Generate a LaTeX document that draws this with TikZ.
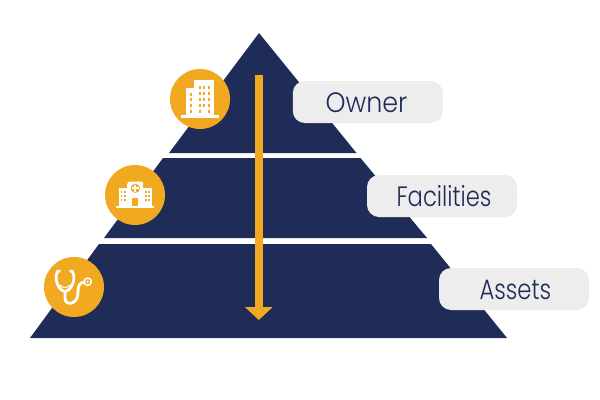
\documentclass[tikz,border=0pt]{standalone}
\usepackage{fontspec}
\setmainfont{Poppins Light}[FakeStretch=0.81]
\usepackage{xcolor}
\usetikzlibrary{arrows.meta}
\definecolor{pyrnavy}{HTML}{1F2C58}
\definecolor{pyrorange}{HTML}{F2A922}
\definecolor{pillgray}{HTML}{EDEDEE}
\tikzset{
	tier/.style={fill=pyrnavy, draw=none},
	badge/.style={circle, fill=pyrorange, draw=none, minimum size=45pt, inner sep=0pt},
	pill/.style={rounded corners=9pt, fill=pillgray, draw=none, minimum width=112.5pt, minimum height=31.5pt, inner sep=0pt, text=pyrnavy, text height=15pt, text depth=0pt, font=\fontsize{21}{24}\selectfont},
	iconwhite/.style={fill=white, draw=none},
	win/.style={fill=pyrorange, draw=none},
	tube/.style={draw=white, line width=2.1pt, line cap=round}
}
\begin{document}
\begin{tikzpicture}[x=0.75pt, y=-0.75pt]
		\useasboundingbox (0,0) rectangle (600,400);
		\fill[tier] (259,33) -- (356.5,153) -- (169,153) -- cycle;
		\fill[tier] (163,158) -- (360.5,158) -- (427,238) -- (104,238) -- cycle;
		\fill[tier] (99,244) -- (431,244) -- (507,338) -- (30,338) -- cycle;

		\coordinate (arrowtop) at (258.8,75);
		\coordinate (arrowend) at (258.8,320);
		\draw[draw=pyrorange, line width=6.4pt, -{Triangle[width=20pt, length=9.6pt]}] (arrowtop) -- (arrowend);

		\node[pill] (owner) at (367.8,102) {\hspace*{-2pt}\scalebox{1.12}[1]{Owner}};
		\node[pill] (facilities) at (442,196) {\hspace*{3pt}Facilities};
		\node[pill] (assets) at (514,289) {\hspace*{2pt}Assets};

		\node[badge] (ownerbadge) at (200,99) {};
		\node[badge] (facilitiesbadge) at (135,195) {};
		\node[badge] (assetsbadge) at (74,287) {};

		% building
		\fill[iconwhite] (181,115) rectangle (219,117.7);
		\fill[iconwhite] (194,80) rectangle (214.3,115);
		\fill[iconwhite] (185.7,87.7) rectangle (194,115);
		\foreach \wx in {199,203,207.5} {
			\foreach \wy in {86,92,98,104,110} {
				\fill[win] (\wx,\wy) rectangle ++(2,3.2);
			}
		}
		\foreach \wy in {92.5,98,104,109.5} {
			\fill[win] (190,\wy) rectangle ++(2,3);
		}
		\fill[iconwhite] (203,110) rectangle ++(2,5);

		% hospital
		\fill[iconwhite] (116,205.7) rectangle (154,208.3);
		\fill[iconwhite] (127.3,183.5) rectangle (143.3,205.7);
		\fill[iconwhite] (127.3,184) arc (180:270:2.5) -- (140.8,181.5) arc (270:360:2.5) -- cycle;
		\fill[iconwhite] (118.7,187.7) rectangle (127.3,205.7);
		\fill[iconwhite] (143.3,187.7) rectangle (152,205.7);
		\fill[win] (135.3,188.3) circle (4.6);
		\fill[iconwhite] (134.3,184.8) rectangle (136.3,191.8);
		\fill[iconwhite] (131.8,187.3) rectangle (138.8,189.3);
		\fill[win] (132.3,197.7) rectangle (137.7,205.7);
		\foreach \wx in {120.5,123.8,145,148.3} {
			\foreach \wy in {190.5,194.5,198.5} {
				\fill[win] (\wx,\wy) rectangle ++(1.9,2.4);
			}
		}

		% stethoscope
		\draw[tube] (59.5,271) -- (57.5,271.5) .. controls (55,276) and (56,283) .. (59,287) .. controls (61,290) and (63,291.5) .. (65,291.5) .. controls (67,291.5) and (69,290) .. (71,287) .. controls (74,283) and (75,276) .. (72.5,271.5) -- (70.5,271);
		\draw[tube] (65,291.5) -- (65,298) .. controls (65,303) and (69,304) .. (72,303) .. controls (77,301) and (78,297) .. (78,291) .. controls (78,285) and (80,283) .. (84,282);
		\draw[draw=white, line width=0.8pt] (60,285) .. controls (63,288.5) and (67,288.5) .. (70,285);
		\draw[draw=white, line width=1.2pt, fill=pyrorange] (87.7,281.7) circle (3.6);
		\fill[iconwhite] (87.7,281.7) circle (1.2);
	\end{tikzpicture}
\end{document}
